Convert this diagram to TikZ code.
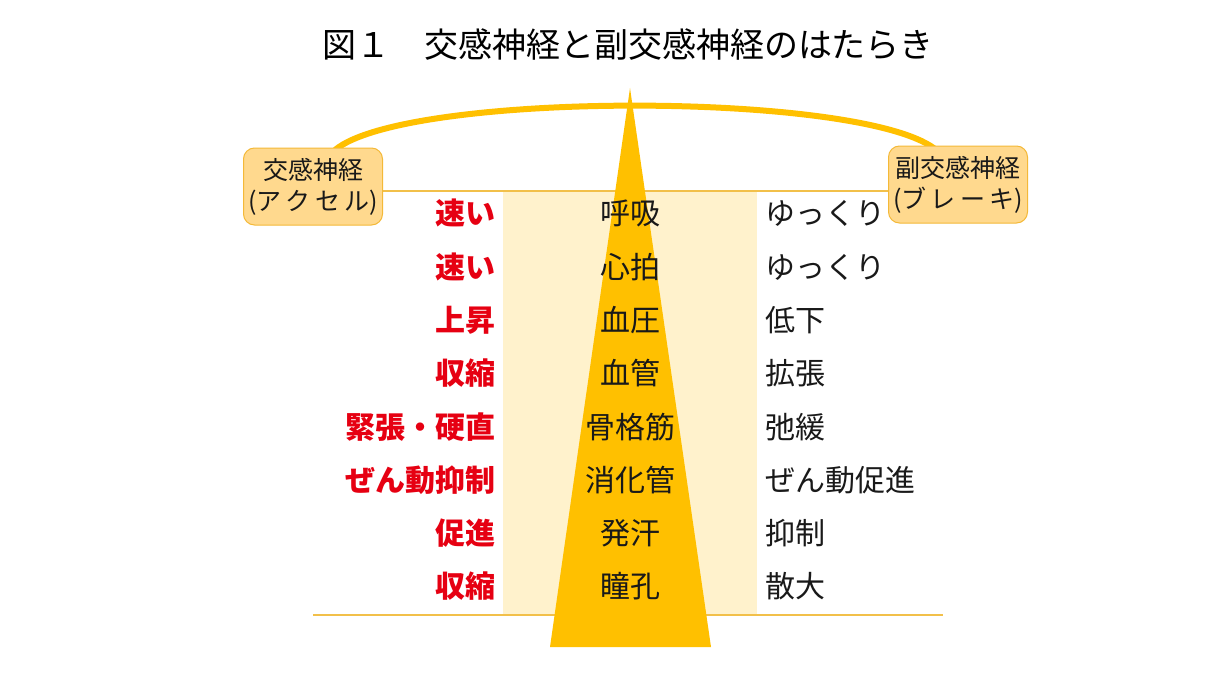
\documentclass[tikz,border=0pt]{standalone}
\usepackage{fontspec}
\setmainfont{Noto Sans CJK JP}
\newfontfamily\cjk{Noto Sans CJK JP}
\begin{document}
\begin{tikzpicture}[x=1pt,y=-1pt,
  row/.style={font=\cjk\fontsize{30}{30}\selectfont, text=black!90, inner sep=0pt, text height=0.88em, text depth=0.12em},
  lrow/.style={row, font=\cjk\bfseries\fontsize{30}{30}\selectfont, text=redT, anchor=east},
  rrow/.style={row, anchor=west},
  crow/.style={row, anchor=center},
  sbox/.style={draw=boxB, line width=1pt, fill=boxF, rounded corners=11pt, minimum width=139pt, minimum height=77pt, align=center, inner sep=0pt, font=\cjk\fontsize{25}{31}\selectfont, text=black!90},
]
\definecolor{triY}{HTML}{FFC000}
\definecolor{bandC}{HTML}{FFF2CC}
\definecolor{lineC}{HTML}{F2C04A}
\definecolor{boxF}{HTML}{FFD98E}
\definecolor{boxB}{HTML}{F4B938}
\definecolor{redT}{HTML}{E60012}
\useasboundingbox (0,0) rectangle (1227,693);
\fill[white] (0,0) rectangle (1227,693);
% title
\node[font=\cjk\fontsize{34}{34}\selectfont, inner sep=0pt, text height=0.88em, text depth=0.12em] (title) at (628,54) {図１　交感神経と副交感神経のはたらき};
% band
\fill[bandC] (503,191) rectangle (757,615);
% horizontal lines
\coordinate (tl) at (313,191); \coordinate (tr) at (943,191);
\coordinate (bl) at (313,615); \coordinate (br) at (943,615);
\draw[lineC, line width=1.3pt] (tl) -- (tr);
\draw[lineC, line width=1.3pt] (bl) -- (br);
% arc
\coordinate (aL) at (335,150); \coordinate (aR) at (935,149);
\draw[triY, line width=6pt] (aL) .. controls (405,91) and (860,91) .. (aR);
% triangle
\coordinate (apex) at (630,88); \coordinate (b1) at (550,647); \coordinate (b2) at (711,647);
\fill[triY] (apex) -- (b2) -- (b1) -- cycle;
% boxes
\node[sbox] (lbox) at (313,186.5) {交感神経\\(ア\,ク\,セ\,ル)};
\node[sbox] (rbox) at (958,184.5) {副交感神経\\(ブ\,レ\,ー\,キ)};
% rows
\foreach \i/\l/\c/\r in {0/速い/呼吸/ゆっくり, 1/速い/心拍/ゆっくり, 2/上昇/血圧/低下, 3/収縮/血管/拡張, 4/緊張・硬直/骨格筋/弛緩, 5/ぜん動抑制/消化管/ぜん動促進, 6/促進/発汗/抑制, 7/収縮/瞳孔/散大}{
  \pgfmathsetmacro{\yy}{221+53.3*\i}
  \node[lrow] (l\i) at (496,\yy) {\l};
  \node[crow] (c\i) at (630,\yy) {\c};
  \node[rrow] (r\i) at (765,\yy) {\r};
}
\end{tikzpicture}
\end{document}
